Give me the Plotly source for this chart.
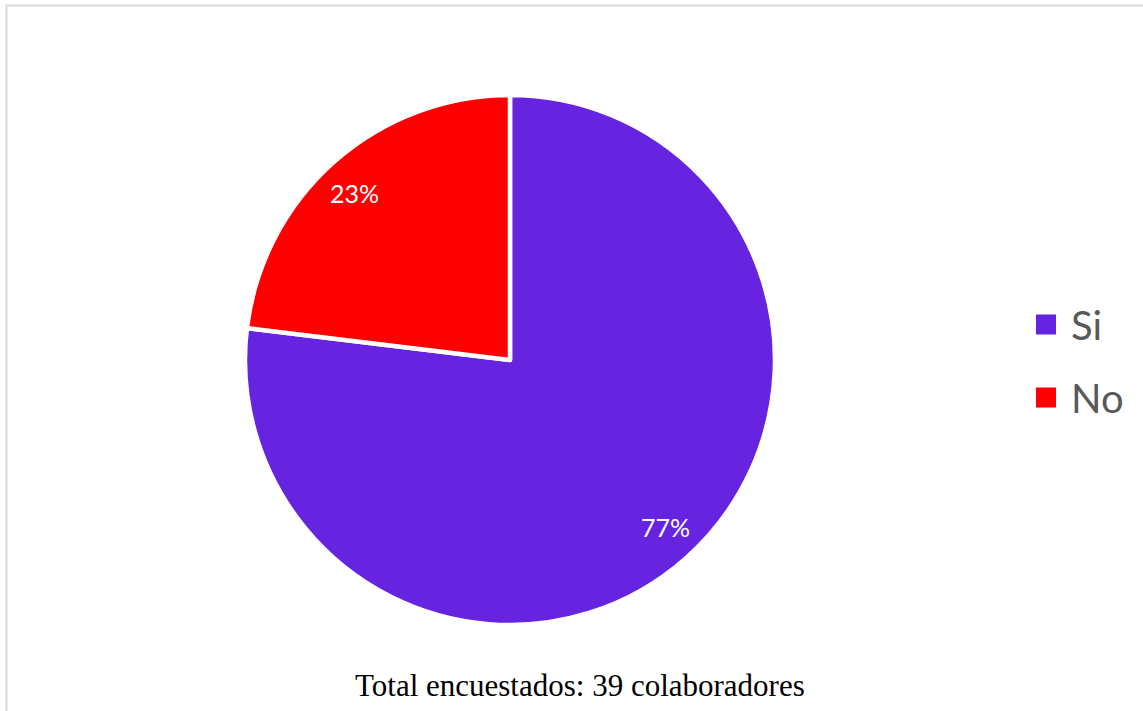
import math
import plotly.graph_objects as go

# Survey answers (39 respondents)
labels = ["Si", "No"]
counts = [30, 9]
colors = ["#6623E0", "#FF0000"]
caption = "Total encuestados: 39 colaboradores"

W, H = 1143, 711
# pie placement in pixels: centre and radius
cx, cy, r = 510, 360, 265

fig = go.Figure()

fig.add_trace(go.Pie(
    labels=labels,
    values=counts,
    sort=False,
    direction="clockwise",
    rotation=0,
    marker=dict(colors=colors, line=dict(color="white", width=4.5)),
    textinfo="none",
    hoverinfo="label+percent",
    showlegend=False,
    domain=dict(x=[(cx - r) / W, (cx + r) / W], y=[(H - cy - r) / H, (H - cy + r) / H]),
))

# Percentage labels placed along each slice's bisector
total = sum(counts)
cum = 0
for lab, c in zip(labels, counts):
    frac = c / total
    mid = (cum + frac / 2) * 2 * math.pi - math.radians(1.5)
    cum += frac
    px = cx + 0.86 * r * math.sin(mid)
    py = cy - 0.86 * r * math.cos(mid)
    fig.add_annotation(
        x=px / W, y=1 - py / H, xref="paper", yref="paper",
        xanchor="center", yanchor="middle",
        text=f"{round(frac * 100)}%", showarrow=False,
        font=dict(family="Lato, Open Sans, sans-serif", size=25, color="white"),
    )

# Legend entries with large square swatches
for lab, col in zip(labels, colors):
    fig.add_trace(go.Scatter(
        x=[None], y=[None], mode="markers", name="\u2009" + lab, legendgroup=lab,
        marker=dict(symbol="square", size=16, color=col, line=dict(color=col, width=4)),
    ))

fig.add_annotation(
    x=580 / W, y=1 - 685 / H, xref="paper", yref="paper",
    xanchor="center", yanchor="middle",
    text=caption, showarrow=False,
    font=dict(family="Liberation Serif, Times New Roman, serif", size=31, color="black"),
)

# chart frame
fig.add_shape(type="rect", xref="paper", yref="paper",
              x0=6.5 / W, x1=1.02, y0=-0.02, y1=1 - 5.5 / H,
              line=dict(color="#D9D9D9", width=2), fillcolor="rgba(0,0,0,0)")

fig.update_layout(
    width=W, height=H,
    margin=dict(l=0, r=0, t=0, b=0),
    paper_bgcolor="white", plot_bgcolor="white",
    xaxis=dict(visible=False), yaxis=dict(visible=False),
    legend=dict(
        x=1026 / W, y=1 - 361 / H, xanchor="left", yanchor="middle",
        font=dict(family="Lato, Open Sans, sans-serif", size=40, color="#595959"),
        tracegroupgap=18, bgcolor="rgba(0,0,0,0)",
    ),
)

fig.write_html("out.html")
